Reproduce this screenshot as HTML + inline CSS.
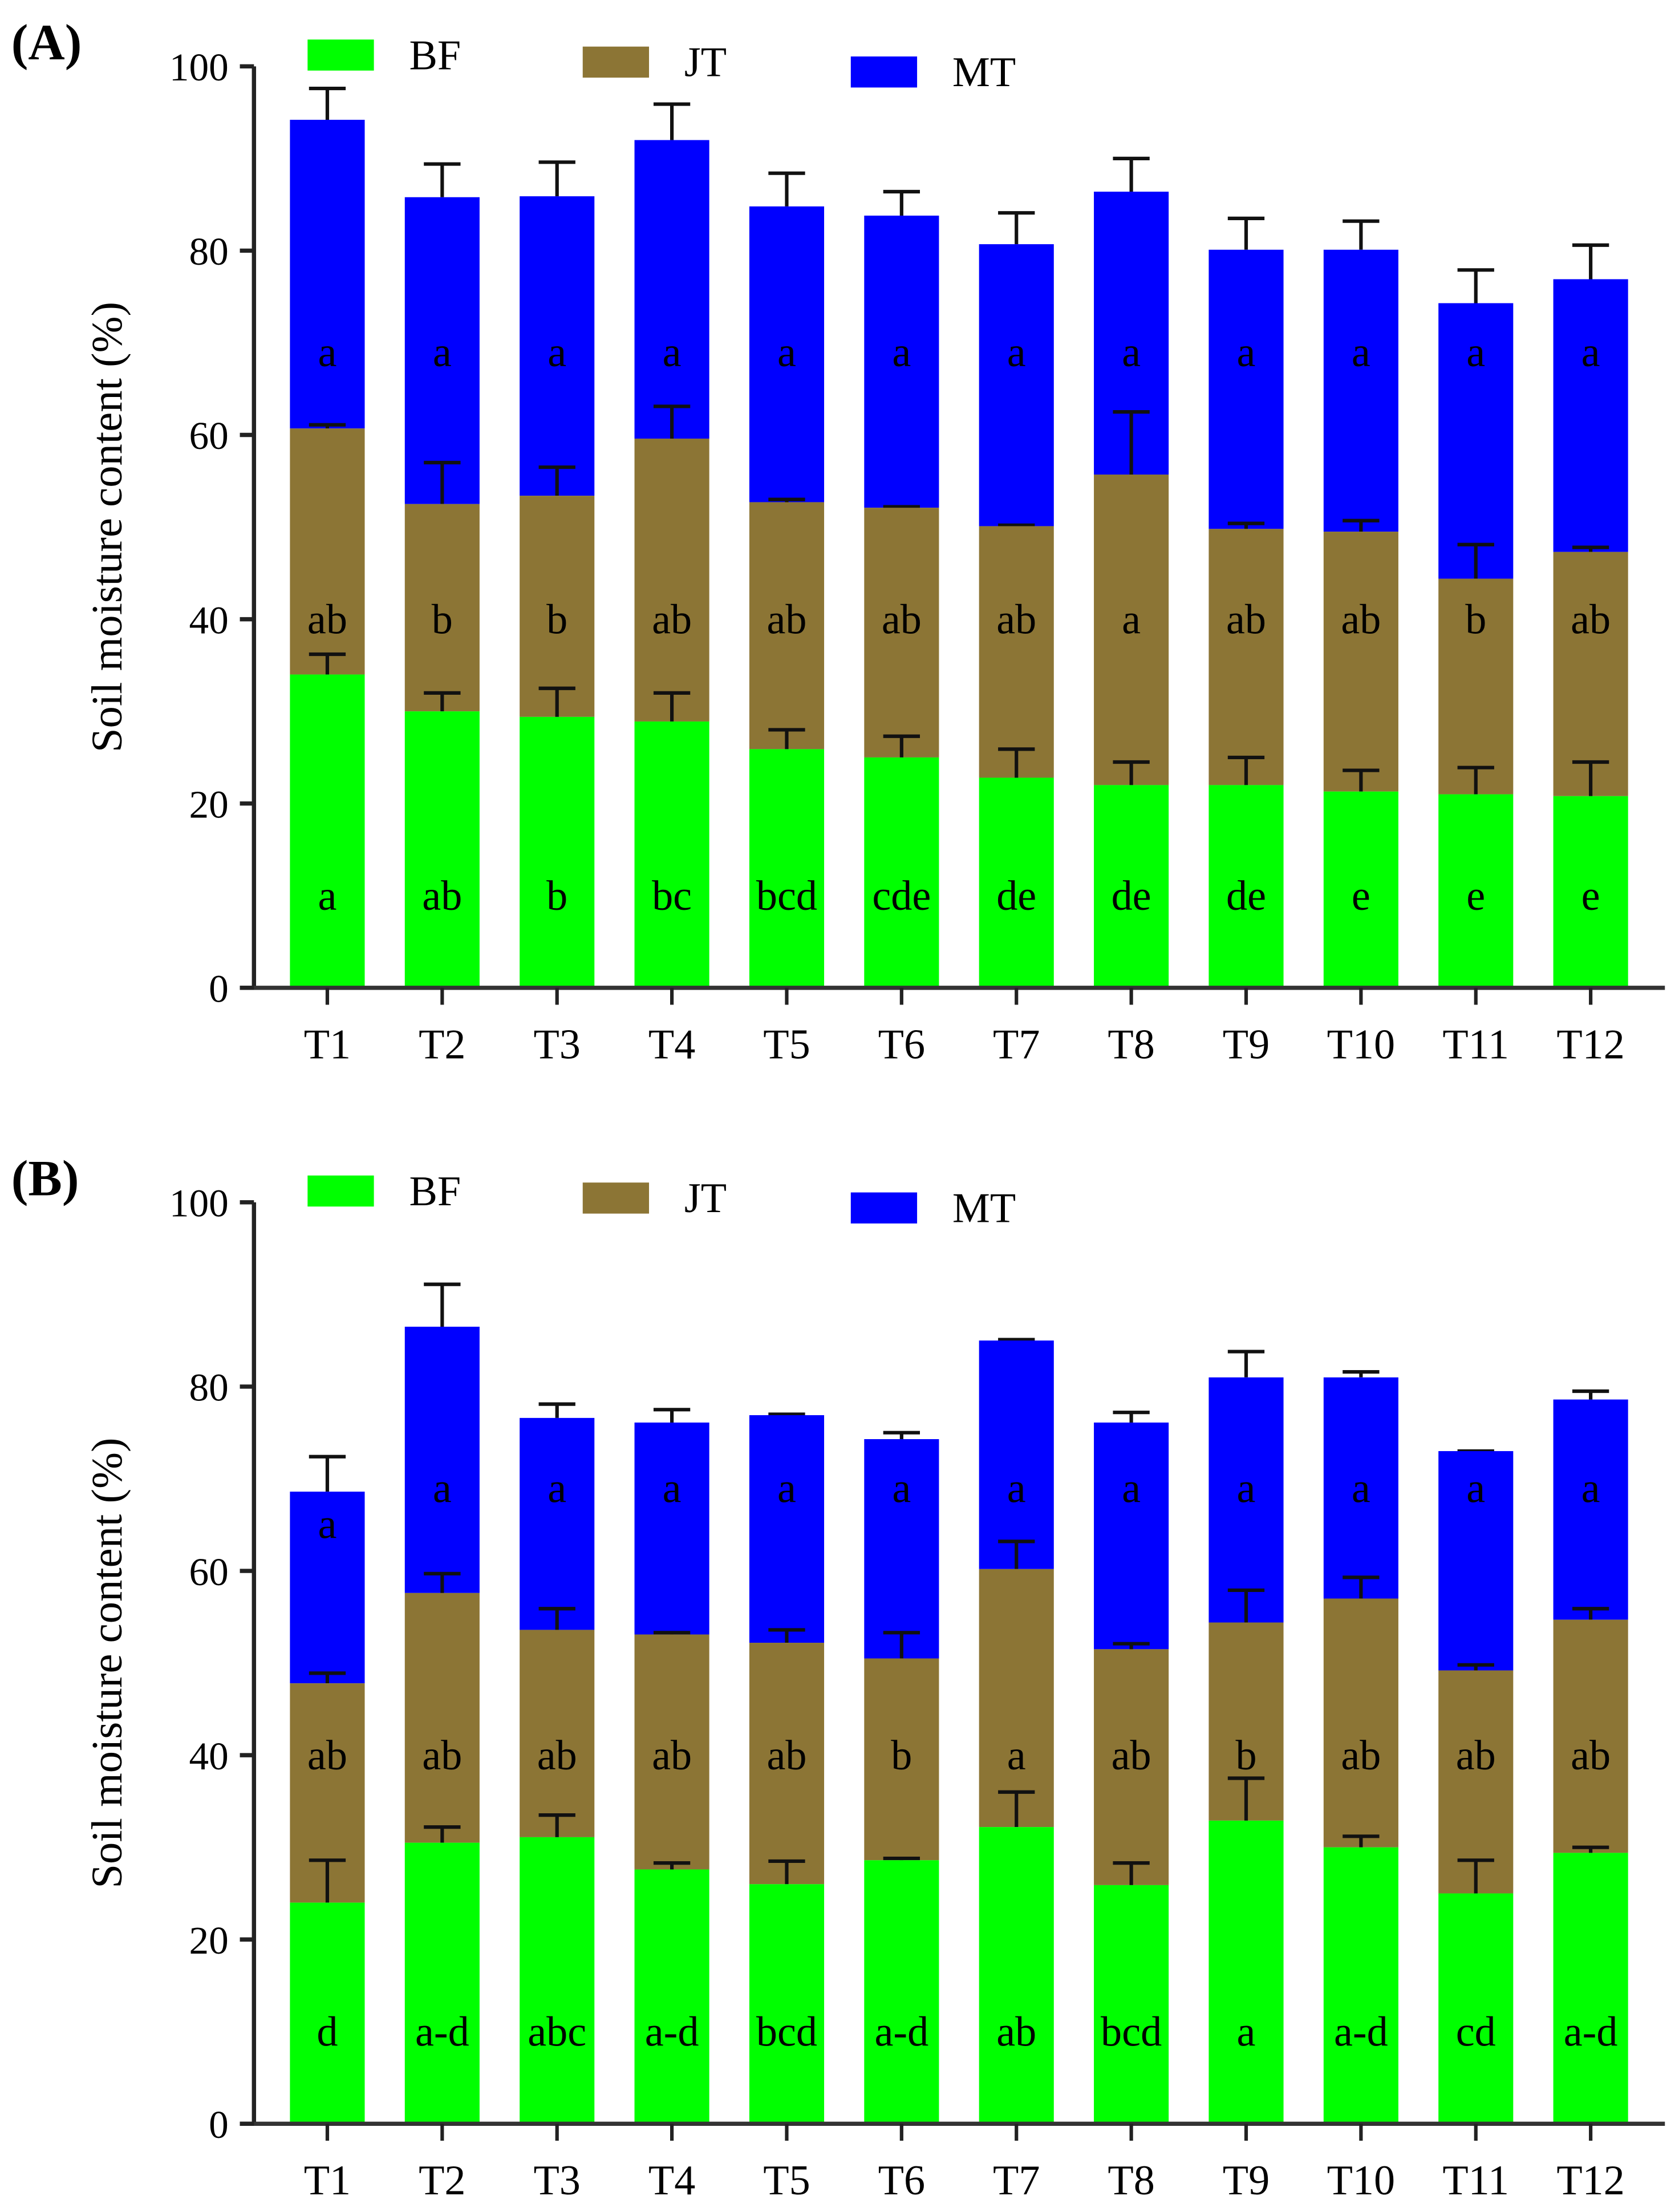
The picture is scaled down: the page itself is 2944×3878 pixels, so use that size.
<!DOCTYPE html>
<html><head><meta charset="utf-8"><style>html,body{margin:0;padding:0;background:#fff}svg{display:block}text{font-family:"Liberation Serif",serif;fill:#000}</style></head>
<body>
<svg id="chart" width="2944" height="3878" viewBox="0 0 1190 1567.5" xmlns="http://www.w3.org/2000/svg"></svg>
<script>
const categories=["T1","T2","T3","T4","T5","T6","T7","T8","T9","T10","T11","T12"];
const yTicks=[0,20,40,60,80,100];
const seriesNames=["BF","JT","MT"];
// Panel A cumulative tops and error tops
const aBF=[34,30,29.4,28.9,25.9,25,22.8,22,22,21.3,21,20.8];
const aBFerr=[36.2,32,32.5,32,28,27.3,25.9,24.5,25,23.6,23.9,24.5];
const aJT=[60.7,52.5,53.4,59.6,52.7,52.1,50.1,55.7,49.8,49.5,44.4,47.3];
const aJTerr=[61.1,57,56.5,63.1,53,52.2,50.2,62.5,50.4,50.7,48.1,47.8];
const aMT=[94.2,85.8,85.9,92,84.8,83.8,80.7,86.4,80.1,80.1,74.3,76.9];
const aMTerr=[97.6,89.4,89.6,95.9,88.4,86.4,84.1,90,83.5,83.2,77.9,80.6];
const aBFlet=["a","ab","b","bc","bcd","cde","de","de","de","e","e","e"];
const aJTlet=["ab","b","b","ab","ab","ab","ab","a","ab","ab","b","ab"];
const aMTlet=["a","a","a","a","a","a","a","a","a","a","a","a"];
// Panel B
const bBF=[24,30.5,31.1,27.6,26,28.6,32.2,25.9,32.9,30,25,29.4];
const bBFerr=[28.6,32.2,33.5,28.3,28.5,28.8,36,28.3,37.5,31.2,28.6,30];
const bJT=[47.8,57.6,53.6,53.1,52.2,50.5,60.2,51.5,54.4,57,49.2,54.7];
const bJTerr=[48.9,59.7,55.9,53.3,53.6,53.3,63.2,52.1,57.9,59.3,49.8,55.9];
const bMT=[68.6,86.5,76.6,76.1,76.9,74.3,85,76.1,81,81,73,78.6];
const bMTerr=[72.4,91.1,78.1,77.5,77,75,85.1,77.2,83.8,81.6,73,79.5];
const bBFlet=["d","a-d","abc","a-d","bcd","a-d","ab","bcd","a","a-d","cd","a-d"];
const bJTlet=["ab","ab","ab","ab","ab","b","a","ab","b","ab","ab","ab"];
const bMTlet=["a","a","a","a","a","a","a","a","a","a","a","a"];

const NS="http://www.w3.org/2000/svg";
const svg=document.getElementById('chart');
function el(tag,attrs,parent,txt){const e=document.createElementNS(NS,tag);for(const k in attrs)e.setAttribute(k,attrs[k]);if(txt!==undefined)e.textContent=txt;(parent||svg).appendChild(e);return e;}
const colors=["#00ff00","#8c7535","#0000ff"];
function panel(label,y0,tops,errs,lets,tag){
  const g=el('g',{});
  
  
  const axX=180, w=53;
  const ys=v=>y0-v*6.53;
  const xs=i=>232+i*81.4;
  const pl=el('text',{x:8,y:y0-658,'font-size':36,'font-weight':'bold'},g,label);
  
  
  for(let s=2;s>=0;s--){
    for(let i=0;i<categories.length;i++){
      const top=tops[s][i], base=s>0?tops[s-1][i]:0;
      const eb=el('path',{d:`M${xs(i)} ${ys(top)}V${ys(errs[s][i])}M${xs(i)-13} ${ys(errs[s][i])}H${xs(i)+13}`,stroke:'#111','stroke-width':2.5,fill:'none'},g);
      
      
      const r=el('rect',{x:xs(i)-w/2,y:ys(top),width:w,height:ys(base)-ys(top),fill:colors[s]},g);
      
      
    }
  }
  const lv=[10,40,69];
  for(let s=0;s<3;s++)for(let i=0;i<categories.length;i++){
    let v=lv[s];
    if(s==2) v=Math.min(v,tops[2][i]-3.5);
    const t=el('text',{x:xs(i),y:ys(v)+10,'font-size':30,'text-anchor':'middle'},g,lets[s][i]);
    
    
  }
  const ya=el('line',{x1:axX,y1:ys(100),x2:axX,y2:ys(0)+1.5,stroke:'#222','stroke-width':3},g);
  
  
  const xa=el('line',{x1:axX-10,y1:ys(0),x2:1180,y2:ys(0),stroke:'#333','stroke-width':3},g);
  
  
  yTicks.forEach(v=>{
    el('line',{x1:axX-10,y1:ys(v),x2:axX,y2:ys(v),stroke:'#222','stroke-width':3},g);
    const t=el('text',{x:axX-18,y:ys(v)+10,'font-size':28,'text-anchor':'end'},g,String(v));
    
    
  });
  categories.forEach((c,i)=>{
    el('line',{x1:xs(i),y1:ys(0),x2:xs(i),y2:ys(0)+12,stroke:'#222','stroke-width':2.5},g);
    const t=el('text',{x:xs(i),y:ys(0)+50,'font-size':30,'text-anchor':'middle'},g,c);
    
    
  });
  const yt=el('text',{x:0,y:0,'font-size':31,'text-anchor':'middle',transform:`translate(86,${ys(50)}) rotate(-90)`},g,'Soil moisture content (%)');
  
  
  const lx=[218,413,603], ly=[-19,-14,-7];
  for(let s=0;s<3;s++){
    const lg=el('g',{},g);
    
    
    el('rect',{x:lx[s],y:ys(100)+ly[s],width:47,height:22,fill:colors[s]},lg);
    el('text',{x:lx[s]+72,y:ys(100)+ly[s]+21,'font-size':30},lg,seriesNames[s]);
  }
}
panel('(A)',700,[aBF,aJT,aMT],[aBFerr,aJTerr,aMTerr],[aBFlet,aJTlet,aMTlet],'a');
panel('(B)',1505,[bBF,bJT,bMT],[bBFerr,bJTerr,bMTerr],[bBFlet,bJTlet,bMTlet],'b');
</script>
</body></html>
